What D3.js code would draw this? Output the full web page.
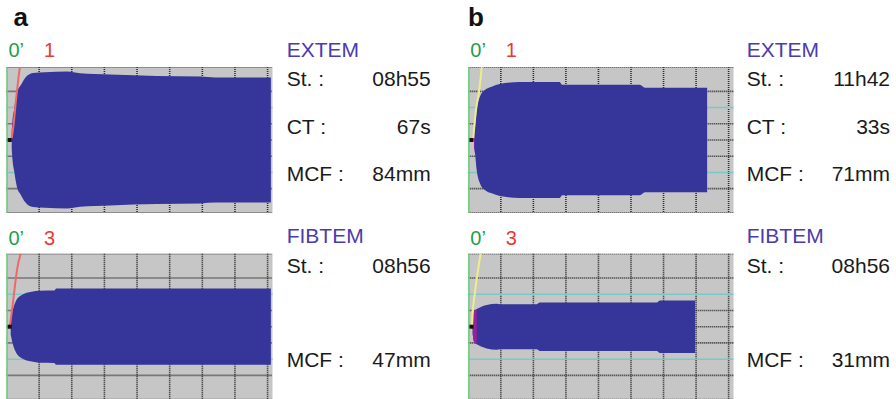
<!DOCTYPE html>
<html><head><meta charset="utf-8">
<script src="https://cdn.jsdelivr.net/npm/d3@7"></script>
<style>html,body{margin:0;padding:0;background:#fff;} svg{display:block;}</style>
</head><body>
<script>
// ---------- DATA ----------
const panelLetters = ["a", "b"];
const assayNames = ["EXTEM", "FIBTEM"];
const channelLabels = ["1", "3"];
const zeroLabel = "0\u2019";
// order: a-EXTEM, a-FIBTEM, b-EXTEM, b-FIBTEM
const startLabels = ["08h55", "08h56", "11h42", "08h56"];
const ctLabels = ["67s", "", "33s", ""];
const mcfLabels = ["84mm", "47mm", "71mm", "31mm"];
const gridMinutes = [10, 20, 30, 40, 50, 60, 70, 80];
const gridHalfAmps = [-30, -10, 0, 10, 30];
const refHalfAmps = [-20, 20];

// clot amplitude traces (time in min, amplitude in mm)
const extemA_time = [1.6, 1.85, 2.3, 3.2, 4.45, 5.7, 8.1, 11.8, 18.5, 22.5, 31.7, 46, 59.3, 64, 81];
const extemA_amp  = [11, 25, 37, 58, 68, 76.5, 82.7, 83.6, 84.3, 82.3, 80.7, 79, 78.2, 77.2, 77.2];
const fibtemA_time = [1.29, 1.75, 2.82, 4.66, 7.7, 10.2, 14.6, 15.3, 81];
const fibtemA_amp  = [10, 18.5, 31, 39, 43, 44.4, 44.6, 47, 47];
const extemB_time = [1.75, 2.06, 2.58, 3.6, 5.1, 7.2, 9.7, 15.8, 28.1, 28.8, 52.7, 54.3, 73.4];
const extemB_amp  = [9, 16.4, 37, 53.5, 61.7, 65.8, 69, 71.4, 71.4, 68, 68, 64.4, 64.4];
const fibtemB_time = [1.35, 1.75, 3.07, 5.65, 8.7, 9.7, 21, 22, 57.9, 58.9, 69.7];
const fibtemB_amp  = [9, 18.5, 22.6, 26.8, 28.4, 27.8, 27.8, 29.9, 29.9, 32.3, 32.3];

// clotting-time indicator lines
const ctLineA1_time = [1.6, 2.1, 2.9, 3.6, 4.1];
const ctLineA1_amp  = [2.5, 16.4, 49, 74, 90];
const ctLineA3_time = [1.07, 1.9, 2.6, 3.3, 4.35];
const ctLineA3_amp  = [2, 27, 51, 72, 90];
const ctLineB1_time = [1.54, 2.37, 3.38, 4.12];
const ctLineB1_amp  = [2.5, 37, 62, 90];
const ctLineB3_time = [1.14, 1.35, 2.06, 2.77, 3.81];
const ctLineB3_amp  = [0, 16.5, 43, 64, 90];

// ---------- LAYOUT ----------
const W = 896, H = 399;
const colLeft = [6.5, 468.3], colRight = [272.5, 733.5];
const rowTop = [67, 253.7], rowBottom = [213, 399.7];
const textLeft = [286.7, 746.7], textRight = [430.7, 890];
const font = "'Liberation Sans', Arial, Helvetica, sans-serif";

const traces = [
  {col:0,row:0,t:extemA_time,a:extemA_amp,lt:ctLineA1_time,la:ctLineA1_amp,lc:"#f06868",mag:0},
  {col:0,row:1,t:fibtemA_time,a:fibtemA_amp,lt:ctLineA3_time,la:ctLineA3_amp,lc:"#f06868",mag:0},
  {col:1,row:0,t:extemB_time,a:extemB_amp,lt:ctLineB1_time,la:ctLineB1_amp,lc:"#eeee88",mag:1.95},
  {col:1,row:1,t:fibtemB_time,a:fibtemB_amp,lt:ctLineB3_time,la:ctLineB3_amp,lc:"#eeee88",mag:2.6}
];

const svg = d3.select("body").append("svg").attr("width", W).attr("height", H);
const defs = svg.append("defs");

traces.forEach((tr, i) => {
  const x = d3.scaleLinear().domain([0, 81.5]).range([colLeft[tr.col], colRight[tr.col]]);
  const y = d3.scaleLinear().domain([-45, 45]).range([rowBottom[tr.row], rowTop[tr.row]]);
  const g = svg.append("g");
  const x0 = colLeft[tr.col], x1 = colRight[tr.col];
  const y0 = rowTop[tr.row], y1 = rowBottom[tr.row];

  g.append("rect").attr("x", x0).attr("y", y0).attr("width", x1 - x0).attr("height", y1 - y0)
    .attr("fill", "#c6c6c6");

  // vertical grid
  g.selectAll(".vg").data(gridMinutes).join("line")
    .attr("x1", d => x(d)).attr("x2", d => x(d)).attr("y1", y0).attr("y2", y1)
    .attr("stroke", "#2a2a2a").attr("stroke-width", 1.6).attr("stroke-dasharray", "1,1");
  // horizontal grid
  g.selectAll(".hg").data(gridHalfAmps).join("line")
    .attr("x1", x0).attr("x2", x1).attr("y1", d => y(d)).attr("y2", d => y(d))
    .attr("stroke", "#2a2a2a").attr("stroke-width", 1.6).attr("stroke-dasharray", "1,1");
  g.selectAll(".rg").data(refHalfAmps).join("line")
    .attr("x1", x0).attr("x2", x1).attr("y1", d => y(d)).attr("y2", d => y(d))
    .attr("stroke", "#7cc8c8").attr("stroke-width", 1.5);
  // top / bottom borders
  [y0 + 0.5, y1 - 0.5].forEach(yy => {
    g.append("line").attr("x1", x0).attr("x2", x1).attr("y1", yy).attr("y2", yy)
      .attr("stroke", "#555").attr("stroke-width", 1).attr("stroke-dasharray", "1,1");
  });

  const pts = tr.t.map((t, k) => [t, tr.a[k]]);
  const area = d3.area().x(d => x(d[0])).y0(d => y(-d[1] / 2)).y1(d => y(d[1] / 2))
    .curve(d3.curveMonotoneX);
  g.append("path").attr("d", area(pts)).attr("fill", "#35359a");

  if (tr.mag > 0) {
    const cid = "clip" + i;
    defs.append("clipPath").attr("id", cid).append("rect")
      .attr("x", x0).attr("y", y0).attr("width", x(tr.mag) - x0).attr("height", y1 - y0);
    g.append("path").attr("d", area(pts)).attr("fill", "#9a1f9a").attr("clip-path", `url(#${cid})`);
  }

  const lpts = tr.lt.map((t, k) => [t, tr.la[k]]);
  const line = d3.line().x(d => x(d[0])).y(d => y(d[1] / 2)).curve(d3.curveMonotoneX);
  g.append("path").attr("d", line(lpts)).attr("fill", "none")
    .attr("stroke", tr.lc).attr("stroke-width", 2);

  // zero-time marker
  g.append("line").attr("x1", x0 + 0.6).attr("x2", x0 + 0.6).attr("y1", y0).attr("y2", y1)
    .attr("stroke", "#6ccf7c").attr("stroke-width", 1.6);
  g.append("rect").attr("x", x0 + 1.2).attr("y", y(0) - 2).attr("width", 4).attr("height", 4)
    .attr("fill", "#111");

  // labels above plot
  const labY = [57.3, 245][tr.row];
  g.append("text").attr("x", x0 + 2).attr("y", labY).text(zeroLabel)
    .attr("font-family", font).attr("font-size", 20).attr("fill", "#1f9e4e");
  g.append("text").attr("x", x0 + 37.5).attr("y", labY).text(channelLabels[tr.row])
    .attr("font-family", font).attr("font-size", 20).attr("fill", "#e83a30");

  // side text
  const tl = textLeft[tr.col], trr = textRight[tr.col];
  const titleY = [57, 243.3][tr.row], stY = [86, 273.3][tr.row], mcfY = [181, 366.7][tr.row];
  const txt = (s, xx, yy, anchor, fill) => g.append("text").attr("x", xx).attr("y", yy).text(s)
    .attr("font-family", font).attr("font-size", 21).attr("text-anchor", anchor).attr("fill", fill);
  txt(assayNames[tr.row], tl, titleY, "start", "#4b3cad");
  txt("St. :", tl, stY, "start", "#1a1a1a");
  txt(startLabels[i], trr, stY, "end", "#1a1a1a");
  if (ctLabels[i]) {
    txt("CT :", tl, 133.7, "start", "#1a1a1a");
    txt(ctLabels[i], trr, 133.7, "end", "#1a1a1a");
  }
  txt("MCF :", tl, mcfY, "start", "#1a1a1a");
  txt(mcfLabels[i], trr, mcfY, "end", "#1a1a1a");
});

panelLetters.forEach((s, k) => {
  svg.append("text").attr("x", [13.5, 468][k]).attr("y", 25.7).text(s)
    .attr("font-family", font).attr("font-size", 26).attr("font-weight", "bold").attr("fill", "#111");
});
</script>
</body></html>
